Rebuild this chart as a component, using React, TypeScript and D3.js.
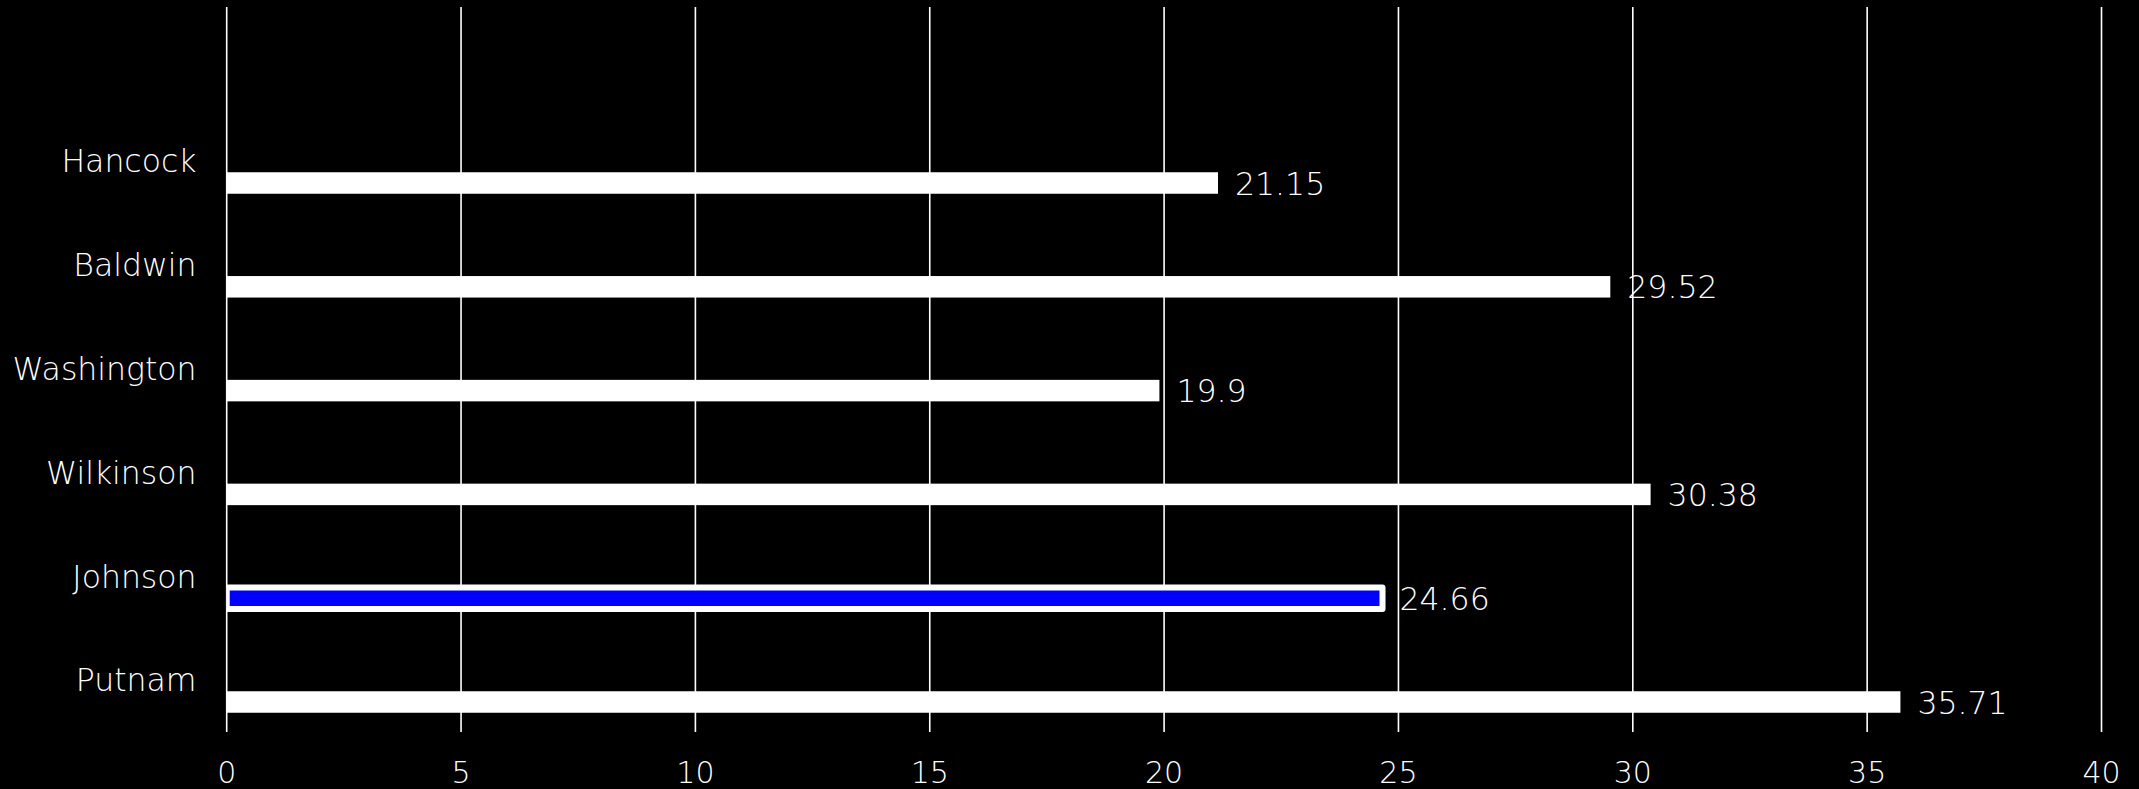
import React from "react";
import * as d3 from "d3";

const categories = ["Hancock", "Baldwin", "Washington", "Wilkinson", "Johnson", "Putnam"];
const values = [21.15, 29.52, 19.9, 30.38, 24.66, 35.71];
const highlighted = ["Johnson"];
const xTicks = [0, 5, 10, 15, 20, 25, 30, 35, 40];

const W = 2139;
const H = 789;
const FONT = "'DejaVu Sans', sans-serif";
const FS = 31.5;

export default function App() {
  const x = d3.scaleLinear().domain([0, 40]).range([226.7, 2101.5]);
  const y = d3.scalePoint<string>().domain(categories).range([183, 702]);
  const barH = 21.5;
  const gridTop = 7;
  const gridBottom = 732;

  return (
    <svg
      width={W}
      height={H}
      style={{ position: "absolute", left: 0, top: 0, background: "#000" }}
    >
      <rect x={0} y={0} width={W} height={H} fill="#000" />
      <defs>
        <clipPath id="plotClip">
          <rect x={x(0)} y={0} width={W - x(0)} height={H} />
        </clipPath>
      </defs>
      {xTicks.map((t) => (
        <g key={t}>
          <line
            x1={x(t)}
            x2={x(t)}
            y1={gridTop}
            y2={gridBottom}
            stroke="#fff"
            strokeWidth={1.6}
          />
          <text
            x={x(t)}
            y={783}
            fill="#fff"
            fontFamily={FONT}
            fontWeight={300}
            fontSize={30}
            textAnchor="middle"
          >
            {t}
          </text>
        </g>
      ))}
      <g clipPath="url(#plotClip)">
        {categories.map((c, i) => {
          const cy = y(c) as number;
          const hl = highlighted.includes(c);
          return (
            <rect
              key={c}
              x={x(0)}
              y={cy - barH / 2}
              width={x(values[i]) - x(0)}
              height={barH}
              fill={hl ? "#0000ff" : "#fff"}
              stroke={hl ? "#fff" : "none"}
              strokeWidth={hl ? 6 : 0}
              strokeLinejoin="round"
            />
          );
        })}
      </g>
      {categories.map((c, i) => {
        const cy = y(c) as number;
        return (
          <g key={c + "-lbl"}>
            <text
              x={196.5}
              y={cy - 10.7}
              fill="#fff"
              fontFamily={FONT}
              fontWeight={300}
              fontSize={FS}
              textAnchor="end"
            >
              {c}
            </text>
            <text
              x={x(values[i]) + 17}
              y={cy + 11.5}
              fill="#fff"
              fontFamily={FONT}
              fontWeight={300}
              fontSize={FS}
              textAnchor="start"
            >
              {values[i]}
            </text>
          </g>
        );
      })}
    </svg>
  );
}
